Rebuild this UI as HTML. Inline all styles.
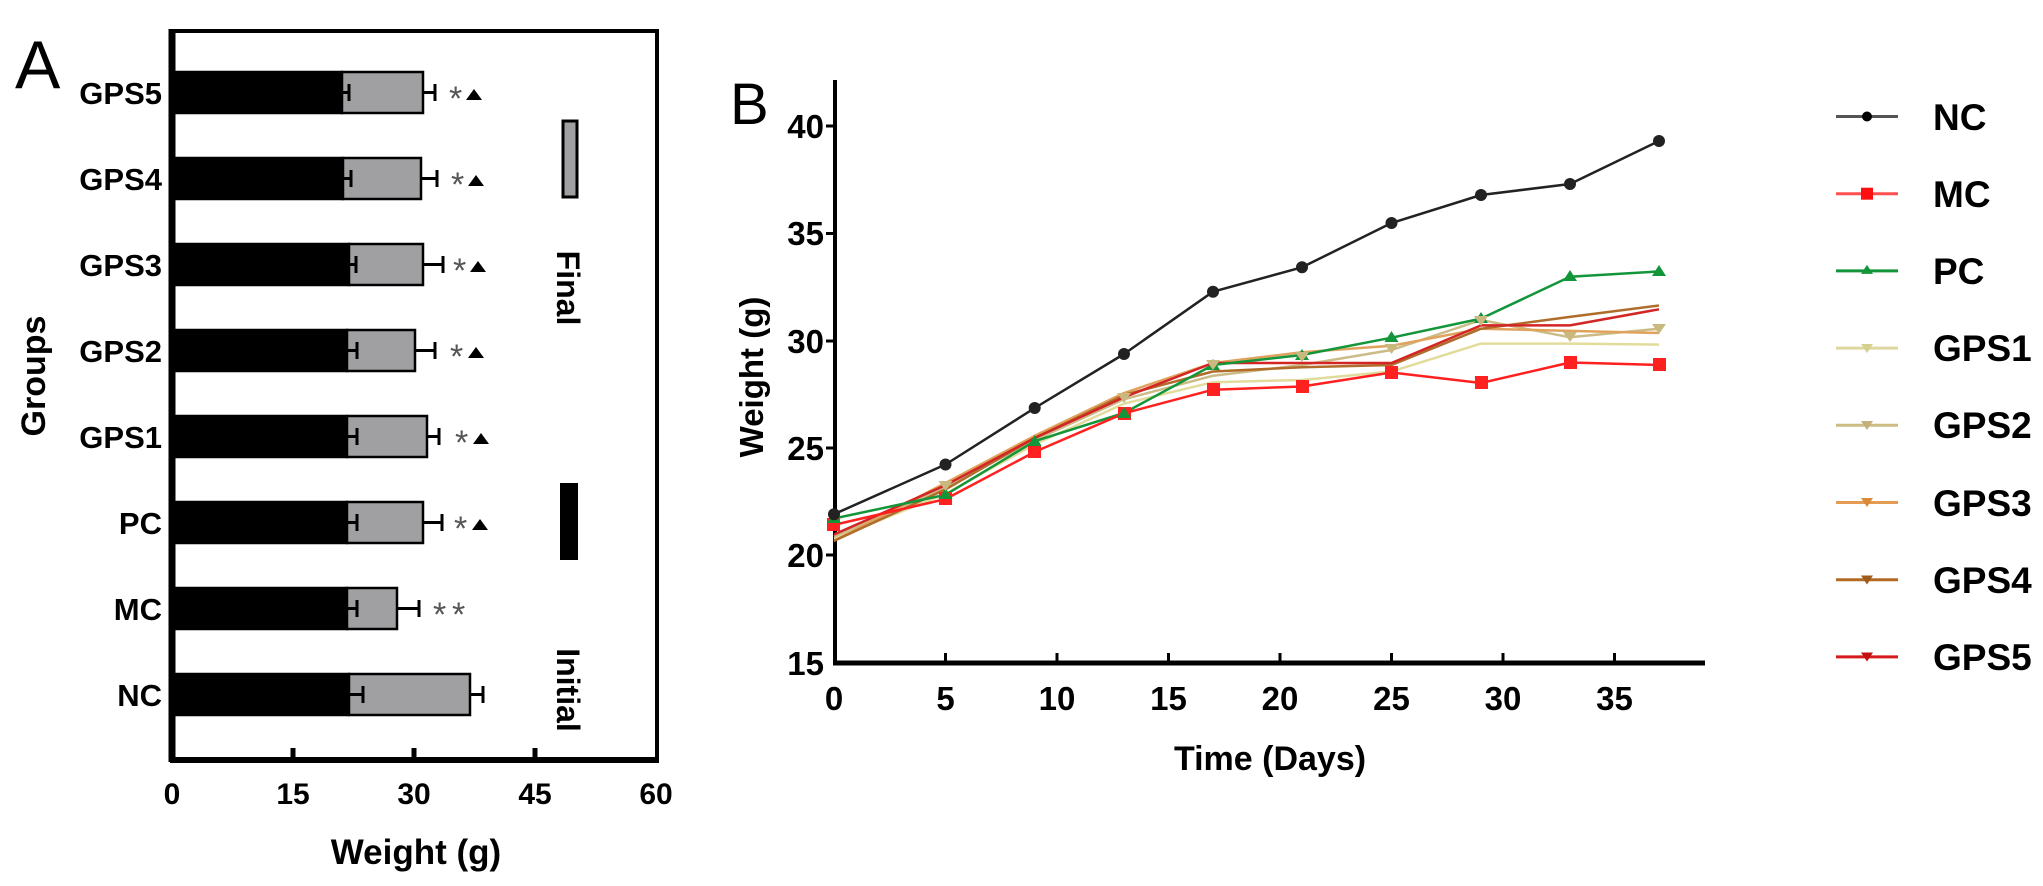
<!DOCTYPE html>
<html><head><meta charset="utf-8"><style>
html,body{margin:0;padding:0;background:#fff;}
svg{display:block;}
text{font-family:"Liberation Sans",Arial,sans-serif;}
</style></head><body>
<svg width="2043" height="886" viewBox="0 0 2043 886" xmlns="http://www.w3.org/2000/svg">
<rect width="2043" height="886" fill="#fff"/>
<!-- Panel A -->
<text x="15" y="88" font-size="68">A</text>
<rect x="172" y="31" width="485" height="729" fill="none" stroke="#000" stroke-width="4"/>
<line x1="172" y1="29" x2="172" y2="762" stroke="#000" stroke-width="7"/>
<line x1="170" y1="760" x2="659" y2="760" stroke="#000" stroke-width="6"/>
<g stroke="#000" stroke-width="5">
<line x1="293" y1="760" x2="293" y2="748"/><line x1="414" y1="760" x2="414" y2="748"/><line x1="535" y1="760" x2="535" y2="748"/>
</g>
<g font-size="30" font-weight="bold" text-anchor="middle">
<text x="172" y="804">0</text><text x="293" y="804">15</text><text x="414" y="804">30</text><text x="535" y="804">45</text><text x="656" y="804">60</text>
</g>
<text x="416" y="864" font-size="35" font-weight="bold" text-anchor="middle">Weight (g)</text>
<text transform="translate(45,376) rotate(-90)" font-size="34" font-weight="bold" text-anchor="middle">Groups</text>
<g font-size="31" font-weight="bold" text-anchor="end">
<text x="162" y="104">GPS5</text><text x="162" y="190">GPS4</text><text x="162" y="276">GPS3</text><text x="162" y="362">GPS2</text><text x="162" y="448">GPS1</text><text x="162" y="534">PC</text><text x="162" y="620">MC</text><text x="162" y="706">NC</text>
</g>
<g stroke="#000" stroke-width="2.5">
<rect x="174" y="72" width="168" height="41" fill="#000"/><rect x="342" y="72" width="81" height="41" fill="#a0a0a2"/>
<rect x="174" y="158" width="169" height="41" fill="#000"/><rect x="343" y="158" width="78" height="41" fill="#a0a0a2"/>
<rect x="174" y="244" width="175" height="41" fill="#000"/><rect x="349" y="244" width="74" height="41" fill="#a0a0a2"/>
<rect x="174" y="330" width="173" height="41" fill="#000"/><rect x="347" y="330" width="68" height="41" fill="#a0a0a2"/>
<rect x="174" y="416" width="173" height="41" fill="#000"/><rect x="347" y="416" width="80" height="41" fill="#a0a0a2"/>
<rect x="174" y="502" width="173" height="41" fill="#000"/><rect x="347" y="502" width="76" height="41" fill="#a0a0a2"/>
<rect x="174" y="588" width="173" height="41" fill="#000"/><rect x="347" y="588" width="50" height="41" fill="#a0a0a2"/>
<rect x="174" y="674" width="175" height="41" fill="#000"/><rect x="349" y="674" width="121" height="41" fill="#a0a0a2"/>
</g>
<g stroke="#000" stroke-width="3" fill="none">
<path d="M423 92.5H435M435 84v17M342 92.5h7M349 84v17"/>
<path d="M421 178.5H437M437 170v17M343 178.5h8M351 170v17"/>
<path d="M423 264.5H443M443 256v17M349 264.5h7M356 256v17"/>
<path d="M415 350.5H435M435 342v17M347 350.5h10M357 342v17"/>
<path d="M427 436.5H439M439 428v17M347 436.5h10M357 428v17"/>
<path d="M423 522.5H442M442 514v17M347 522.5h10M357 514v17"/>
<path d="M397 608.5H419M419 600v17M347 608.5h10M357 600v17"/>
<path d="M470 694.5H483M483 686v17M349 694.5h14M363 686v17"/>
</g>
<g font-size="34" fill="#555">
<text x="449" y="110">*</text><text x="451" y="196">*</text><text x="453" y="282">*</text><text x="450" y="368">*</text><text x="455" y="454">*</text><text x="454" y="540">*</text>
<text x="433" y="626">*</text><text x="452" y="626">*</text>
</g>
<g fill="#000">
<path d="M466 100l8-11 8 11z"/><path d="M468 186l8-11 8 11z"/><path d="M470 272l8-11 8 11z"/><path d="M468 358l8-11 8 11z"/><path d="M473 444l8-11 8 11z"/><path d="M472 530l8-11 8 11z"/>
</g>
<rect x="563" y="121" width="14" height="76" fill="#a0a0a2" stroke="#000" stroke-width="3"/>
<rect x="560" y="483" width="18" height="77" fill="#000"/>
<text transform="translate(557,288) rotate(90)" font-size="32" font-weight="bold" text-anchor="middle">Final</text>
<text transform="translate(557,690) rotate(90)" font-size="32" font-weight="bold" text-anchor="middle">Initial</text>

<!-- Panel B -->
<text x="730" y="124" font-size="58">B</text>
<line x1="835" y1="80" x2="835" y2="665" stroke="#000" stroke-width="4"/>
<line x1="833" y1="663" x2="1705" y2="663" stroke="#000" stroke-width="5"/>
<g stroke="#000" stroke-width="3">
<line x1="826" y1="126" x2="835" y2="126"/><line x1="826" y1="233.5" x2="835" y2="233.5"/><line x1="826" y1="341" x2="835" y2="341"/><line x1="826" y1="448" x2="835" y2="448"/><line x1="826" y1="555" x2="835" y2="555"/>
<line x1="945.5" y1="663" x2="945.5" y2="653"/><line x1="1057" y1="663" x2="1057" y2="653"/><line x1="1168.5" y1="663" x2="1168.5" y2="653"/><line x1="1280" y1="663" x2="1280" y2="653"/><line x1="1391.5" y1="663" x2="1391.5" y2="653"/><line x1="1503" y1="663" x2="1503" y2="653"/><line x1="1614.5" y1="663" x2="1614.5" y2="653"/>
</g>
<g font-size="33" font-weight="bold" text-anchor="end">
<text x="824" y="138">40</text><text x="824" y="245">35</text><text x="824" y="353">30</text><text x="824" y="460">25</text><text x="824" y="567">20</text><text x="824" y="675">15</text>
</g>
<g font-size="33" font-weight="bold" text-anchor="middle">
<text x="834" y="710">0</text><text x="945.5" y="710">5</text><text x="1057" y="710">10</text><text x="1168.5" y="710">15</text><text x="1280" y="710">20</text><text x="1391.5" y="710">25</text><text x="1503" y="710">30</text><text x="1614.5" y="710">35</text>
</g>
<text x="1270" y="770" font-size="34" font-weight="bold" text-anchor="middle">Time (Days)</text>
<text transform="translate(763,377) rotate(-90)" font-size="33" font-weight="bold" text-anchor="middle">Weight (g)</text>

<g fill="none" stroke-width="2.5" stroke-linejoin="round">
<polyline stroke="#e2dc9c" points="834,538.8 945.5,493.7 1034.7,444.4 1124,403.6 1213,382.2 1302,380 1391.5,371.5 1481,343.6 1570,343.6 1659,344.6"/>
<polyline stroke="#cbbb86" points="834,536.6 945.5,487.3 1034.7,440.1 1124,399.3 1213,375.7 1302,365 1391.5,350 1481,320 1570,337.3 1659,328.7"/>
<polyline stroke="#e0a25c" points="834,540.9 945.5,483 1034.7,435.8 1124,393 1213,363 1302,352.2 1391.5,345.8 1481,328.7 1570,330.9 1659,333"/>
<polyline stroke="#b06c2a" points="834,540.9 945.5,489.4 1034.7,438 1124,395 1213,371.5 1302,367.2 1391.5,365 1481,328.7 1570,316.9 1659,305.5"/>
<polyline stroke="#d42525" points="834,534.5 945.5,485.2 1034.7,438 1124,397.2 1213,363 1302,363 1391.5,363 1481,325.4 1570,325.4 1659,309.3"/>
<polyline stroke="#13953a" points="834,518.5 945.5,494.8 1034.7,441.2 1124,413 1213,365 1302,355 1391.5,337.7 1481,318.6 1570,276.8 1659,271.4"/>
<polyline stroke="#ff2020" points="834,524.9 945.5,499.1 1034.7,451.9 1124,413.3 1213,389.7 1302,386.5 1391.5,372.5 1481,383 1570,362.5 1659,365"/>
<polyline stroke="#222" points="834,514.2 945.5,464.5 1034.7,408 1124,354 1213,291.7 1302,267.3 1391.5,223 1481,195 1570,184 1659,141"/>
</g>
<g fill="#ff2020">
<rect x="827" y="518" width="13" height="13"/><rect x="939" y="492" width="13" height="13"/><rect x="1028" y="445" width="13" height="13"/><rect x="1118" y="407" width="13" height="13"/><rect x="1207" y="383" width="13" height="13"/><rect x="1296" y="380" width="13" height="13"/><rect x="1385" y="366" width="13" height="13"/><rect x="1475" y="376" width="13" height="13"/><rect x="1564" y="356" width="13" height="13"/><rect x="1653" y="358" width="13" height="13"/>
</g>
<g fill="#13953a">
<path d="M834 512l7 11h-14zM945.5 488l7 11h-14zM1034.7 435l7 11h-14zM1124 407l7 11h-14zM1213 359l7 11h-14zM1302 349l7 11h-14zM1391.5 331l7 11h-14zM1481 312l7 11h-14zM1570 270l7 11h-14zM1659 265l7 11h-14z"/>
</g>
<g fill="#c9b97f">
<path d="M1213 370l7-10h-14zM1302 362l7-10h-14zM1391.5 354l7-10h-14zM1481 326l7-10h-14zM1570 342l7-10h-14zM1659 334l7-10h-14zM1124 403l7-10h-14zM945.5 491l7-10h-14z"/>
</g>
<g fill="#222">
<circle cx="834" cy="514.2" r="6"/><circle cx="945.5" cy="464.5" r="6"/><circle cx="1034.7" cy="408" r="6"/><circle cx="1124" cy="354" r="6"/><circle cx="1213" cy="291.7" r="6"/><circle cx="1302" cy="267.3" r="6"/><circle cx="1391.5" cy="223" r="6"/><circle cx="1481" cy="195" r="6"/><circle cx="1570" cy="184" r="6"/><circle cx="1659" cy="141" r="6"/>
</g>

<!-- Legend -->
<g stroke-width="3">
<line x1="1836" y1="116.5" x2="1898" y2="116.5" stroke="#555"/>
<line x1="1836" y1="193.7" x2="1898" y2="193.7" stroke="#ff5050"/>
<line x1="1836" y1="270.9" x2="1898" y2="270.9" stroke="#13953a"/>
<line x1="1836" y1="348.1" x2="1898" y2="348.1" stroke="#dcd8a0"/>
<line x1="1836" y1="425.3" x2="1898" y2="425.3" stroke="#cdbd85"/>
<line x1="1836" y1="502.5" x2="1898" y2="502.5" stroke="#e39c52"/>
<line x1="1836" y1="579.7" x2="1898" y2="579.7" stroke="#b36a22"/>
<line x1="1836" y1="656.9" x2="1898" y2="656.9" stroke="#d41a1a"/>
</g>
<circle cx="1867" cy="116.5" r="5" fill="#000"/>
<rect x="1861" y="187.7" width="12" height="12" fill="#ff1010"/>
<path d="M1867 264.9l6 9h-12z" fill="#13953a"/>
<path d="M1867 353l6-9h-12z" fill="#d6d08e"/>
<path d="M1867 430l6-9h-12z" fill="#c4b27a"/>
<path d="M1867 507l6-9h-12z" fill="#d98a3a"/>
<path d="M1867 584.5l6-9h-12z" fill="#a05a1a"/>
<path d="M1867 661.5l6-9h-12z" fill="#c01010"/>
<g font-size="37" font-weight="bold">
<text x="1933" y="130">NC</text><text x="1933" y="207">MC</text><text x="1933" y="284">PC</text><text x="1933" y="361">GPS1</text><text x="1933" y="438">GPS2</text><text x="1933" y="516">GPS3</text><text x="1933" y="593">GPS4</text><text x="1933" y="670">GPS5</text>
</g>
</svg>
</body></html>
